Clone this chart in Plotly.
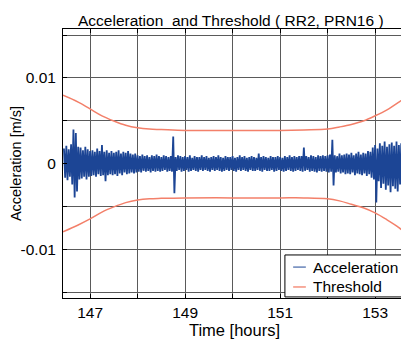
import numpy as np
import plotly.graph_objects as go

# ---- data (values in mm/s^2, converted to m/s^2 below) ----
acc_t0 = 146.45      # first bin time [h]
acc_dt = 0.05        # bin width [h]
acc_hi = [1.8, 2.1, 1.7, 2.3, 4.0, 3.6, 2.0, 1.9, 1.6, 2.0,
          1.7, 1.5, 1.6, 1.4, 1.8, 1.5, 2.2, 1.4, 1.6, 1.3,
          1.5, 1.3, 1.4, 1.6, 1.2, 1.4, 1.3, 1.5, 1.2, 1.1,
          1.2, 1.0, 0.9, 1.1, 0.9, 1.0, 0.8, 1.0, 0.9, 1.1,
          0.9, 0.8, 1.0, 0.9, 0.8, 0.9, 3.2, 0.8, 1.0, 0.9,
          0.8, 0.9, 0.8, 1.0, 0.7, 0.9, 0.8, 0.8, 1.0, 0.8,
          0.9, 0.7, 0.8, 0.9, 0.8, 1.0, 0.8, 0.7, 0.9, 0.8,
          0.8, 0.9, 0.7, 0.8, 1.0, 0.8, 0.9, 0.7, 0.8, 0.9,
          0.8, 0.7, 1.2, 0.8, 0.9, 0.8, 0.7, 0.9, 0.8, 0.8,
          0.9, 0.8, 0.7, 0.9, 0.8, 1.0, 0.8, 0.9, 0.8, 0.9,
          0.9, 1.9, 0.9, 0.8, 1.0, 0.9, 0.8, 1.0, 0.9, 1.0,
          0.9, 1.0, 1.1, 2.8, 1.0, 0.9, 1.2, 1.0, 1.1, 1.2,
          1.1, 1.3, 1.0, 1.2, 1.4, 1.1, 1.3, 1.2, 1.5, 1.4,
          1.9, 2.2, 1.8, 2.4, 2.1, 2.6, 2.0, 2.3, 2.5, 2.1,
          2.6, 2.2, 2.4, 2.0, 2.3]
acc_lo = [-1.6, -1.9, -1.5, -2.4, -3.9, -3.2, -1.8, -1.7, -1.5, -1.8,
          -1.5, -1.4, -1.3, -1.5, -1.2, -1.4, -1.3, -2.0, -1.3, -1.2,
          -1.3, -1.2, -1.4, -1.1, -1.3, -1.0, -1.2, -1.1, -1.0, -1.1,
          -1.0, -0.9, -1.0, -0.8, -0.9, -0.8, -1.0, -0.8, -0.9, -0.8,
          -0.9, -0.8, -0.7, -0.9, -0.8, -0.9, -3.4, -0.8, -0.7, -0.9,
          -0.8, -0.7, -0.9, -0.8, -0.7, -0.8, -0.9, -0.7, -0.8, -0.7,
          -0.8, -0.9, -0.7, -0.8, -0.7, -0.8, -0.9, -0.8, -0.7, -0.8,
          -0.7, -0.8, -0.9, -0.7, -0.8, -0.7, -0.8, -0.9, -0.7, -0.8,
          -0.8, -0.7, -0.8, -0.9, -0.7, -0.8, -0.8, -0.7, -0.9, -0.8,
          -0.7, -0.8, -0.9, -0.8, -0.7, -0.8, -0.9, -0.8, -0.7, -0.8,
          -0.9, -0.8, -0.7, -0.9, -0.8, -0.9, -1.0, -0.8, -0.9, -0.8,
          -0.9, -1.0, -0.9, -2.5, -1.0, -0.9, -1.1, -1.0, -1.2, -1.1,
          -1.2, -1.0, -1.3, -1.1, -1.2, -1.3, -1.1, -1.4, -1.2, -1.6,
          -1.8, -4.5, -2.0, -2.8, -2.3, -3.0, -2.5, -3.3, -2.6, -2.9,
          -3.2, -2.4, -2.8, -2.2, -2.5]

thr_t = [146.43, 146.75, 147.0, 147.25, 147.5, 147.75, 148.0, 148.25, 148.5,
         149.0, 150.0, 151.0, 151.5, 152.0, 152.25, 152.5, 152.75, 153.0,
         153.25, 153.5, 153.65]
thr_up = [8.0, 7.2, 6.4, 5.6, 5.0, 4.5, 4.2, 4.05, 4.0,
          3.9, 3.9, 3.9, 3.95, 4.05, 4.3, 4.6, 5.0, 5.6,
          6.3, 7.2, 7.8]
thr_lo = [-7.9, -7.1, -6.4, -5.6, -5.0, -4.5, -4.2, -4.05, -4.0,
          -3.95, -3.95, -3.95, -3.95, -4.05, -4.3, -4.7, -5.1, -5.7,
          -6.5, -7.4, -8.1]

x_ticks = [147, 148, 149, 150, 151, 152, 153]
x_labels = ["147", "", "149", "", "151", "", "153"]
y_ticks = [-0.015, -0.01, -0.005, 0, 0.005, 0.01, 0.015]
y_labels = ["", "-0.01", "", "0", "", "0.01", ""]
legend_names = ["Acceleration", "Threshold"]
title_text = "Acceleration  and Threshold ( RR2, PRN16 )"

# ---- build traces ----
n = len(acc_hi)
bin_t = acc_t0 + acc_dt * np.arange(n)
ax = np.empty(2 * n)
ay = np.empty(2 * n)
ax[0::2] = bin_t
ax[1::2] = bin_t + acc_dt / 2
ay[0::2] = np.array(acc_hi) * 1e-3
ay[1::2] = np.array(acc_lo) * 1e-3

blue = "#1c4595"
red = "#f3806a"
font = "Liberation Sans, Arial, sans-serif"

fig = go.Figure()
fig.add_trace(go.Scatter(x=ax, y=ay, mode="lines", name=legend_names[0], showlegend=False,
                         line=dict(color=blue, width=1.8, simplify=False)))
fig.add_trace(go.Scatter(x=thr_t, y=np.array(thr_up) * 1e-3, mode="lines",
                         name=legend_names[1], showlegend=False,
                         line=dict(color=red, width=1.5, shape="spline")))
fig.add_trace(go.Scatter(x=thr_t, y=np.array(thr_lo) * 1e-3, mode="lines",
                         name=legend_names[1], showlegend=False,
                         line=dict(color=red, width=1.5, shape="spline")))

# ---- compact legend box (short line samples, as in the reference) ----
fig.add_shape(type="rect", xref="paper", yref="paper", x0=0.647, x1=0.997, y0=0.004, y1=0.160,
              line=dict(color="black", width=1), fillcolor="white", layer="above")
for name, col, yp, w in [(legend_names[0], blue, 0.115, 1.0), (legend_names[1], red, 0.041, 1.3)]:
    fig.add_shape(type="line", xref="paper", yref="paper", x0=0.671, x1=0.708, y0=yp, y1=yp,
                  line=dict(color=col, width=w), layer="above")
    fig.add_annotation(text=name, xref="paper", yref="paper", x=0.724, y=yp,
                       xanchor="left", yanchor="middle", showarrow=False,
                       font=dict(family=font, size=15.5, color="black"))

# title as an annotation placed just inside the top of the figure
fig.add_annotation(text=title_text, xref="paper", yref="paper", x=0.49, y=1.072,
                   xanchor="center", yanchor="top", showarrow=False,
                   font=dict(family=font, size=15.5, color="black"))

axis_common = dict(showline=True, linecolor="black", linewidth=1, mirror="ticks",
                   showgrid=True, gridcolor="#5a5a5a", gridwidth=1, zeroline=False,
                   ticks="inside", ticklen=4, tickcolor="black", automargin=False,
                   tickfont=dict(family=font, size=15.5, color="black"))

# page body has an 8px default margin, so the figure is 8px smaller
W, H = 401, 336
fig.update_layout(
    width=W, height=H,
    margin=dict(l=55, r=3, t=21, b=46, autoexpand=False),
    paper_bgcolor="white", plot_bgcolor="white",
    font=dict(family=font, color="black"),
    showlegend=False,
    xaxis=dict(range=[146.43, 153.65], tickvals=x_ticks, ticktext=x_labels,
               title=dict(text="Time [hours]", standoff=3,
                          font=dict(family=font, size=16.5, color="black")),
               **axis_common),
    yaxis=dict(range=[-0.0156, 0.0157], tickvals=y_ticks, ticktext=y_labels,
               ticklabelstandoff=3,
               title=dict(text="Acceleration [m/s]", standoff=13,
                          font=dict(family=font, size=14.5, color="black")),
               **axis_common),
)

fig.write_html("out.html")
